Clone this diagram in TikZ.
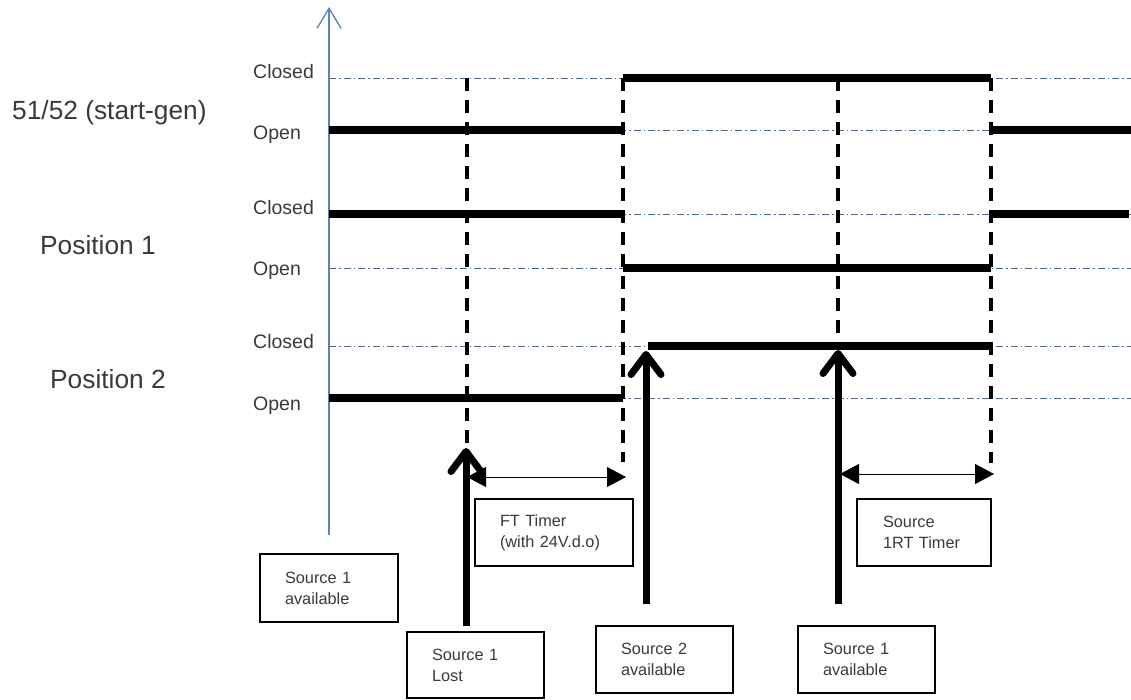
\documentclass[tikz,border=0pt]{standalone}
\usepackage{fontspec}
\setmainfont{Liberation Sans}
\usetikzlibrary{arrows.meta,calc}
\definecolor{axisblue}{HTML}{5B84B8}
\definecolor{refline}{HTML}{4F6A88}
\definecolor{txt}{HTML}{3A3A3A}
\begin{document}
\begin{tikzpicture}[x=1pt,y=-1pt,
  lvl/.style={font=\fontsize{19.5}{21}\selectfont, text=txt, anchor=base west, inner sep=0pt},
  grp/.style={font=\fontsize{26.3}{28}\selectfont, text=txt, anchor=base west, inner sep=0pt},
  refl/.style={refline, line width=0.8pt, dash pattern=on 7pt off 3pt on 1.5pt off 3pt},
  sig/.style={black, line width=8pt},
  evt/.style={black, line width=4pt, dash pattern=on 13pt off 9pt},
  infobox/.style={draw, line width=1.5pt, align=left, inner xsep=25pt, inner ysep=0pt,
    font=\fontsize{16.3}{21}\selectfont, text=txt, anchor=center},
  trig/.style={black, line width=7pt, -{Straight Barb[length=20pt,width=30pt,round]}},
  timer/.style={black, line width=1pt, {Triangle[length=19pt,width=20pt]}-{Triangle[length=19pt,width=20pt]}},
  axis/.style={axisblue, line width=1.3pt, -{Straight Barb[length=20pt,width=24pt]}}
]
\useasboundingbox (0,0) rectangle (1131,700);

% axis
\coordinate (axb) at (329,535);
\coordinate (axt) at (329,7);
\draw[axis] (axb) -- (axt);

% group labels
\node[grp] (g1) at (12,120) {51/52 (start-gen)};
\node[grp] (g2) at (40,255) {Position 1};
\node[grp] (g3) at (50,388) {Position 2};

% level labels
\node[lvl] (l1c) at (253,79) {Closed};
\node[lvl] (l1o) at (253,140) {Open};
\node[lvl] (l2c) at (253,215) {Closed};
\node[lvl] (l2o) at (253,276) {Open};
\node[lvl] (l3c) at (253,348) {Closed};
\node[lvl] (l3o) at (253,410) {Open};

% reference lines
\foreach \y in {78,130,214,268,346,398}
  \draw[refl] (329,\y) -- (1131,\y);

% event dashed lines
\coordinate (e1t) at (467,78);  \coordinate (e1b) at (467,448);
\coordinate (e2t) at (623,78);  \coordinate (e2b) at (623,462);
\coordinate (e3t) at (838,78);  \coordinate (e3b) at (838,346);
\coordinate (e4t) at (991,78);  \coordinate (e4b) at (991,463);
\draw[evt] (e1t) -- (e1b);
\draw[evt] (e2t) -- (e2b);
\draw[evt] (e3t) -- (e3b);
\draw[evt] (e4t) -- (e4b);

% signals
\draw[sig] (329,130) -- (623,130);
\draw[sig] (623,78) -- (991,78);
\draw[sig] (991,130) -- (1131,130);
\draw[sig] (329,214) -- (623,214);
\draw[sig] (623,268) -- (991,268);
\draw[sig] (991,214) -- (1129,214);
\draw[sig] (329,398) -- (623,398);
\draw[sig] (648,346) -- (991,346);

% boxes
\node[infobox, minimum width=138pt, minimum height=68pt, text width=88pt] (b0) at (329,588) {Source 1\\available};
\node[infobox, minimum width=158pt, minimum height=67pt, text width=108pt] (ft) at (554,532.5) {FT Timer\\(with 24V.d.o)};
\node[infobox, minimum width=137pt, minimum height=66pt, text width=87pt] (lost) at (475.5,665) {Source 1\\Lost};
\node[infobox, minimum width=137pt, minimum height=67pt, text width=87pt] (s2) at (664.5,659.5) {Source 2\\available};
\node[infobox, minimum width=137pt, minimum height=67pt, text width=87pt] (s1b) at (866.5,659.5) {Source 1\\available};
\node[infobox, minimum width=134pt, minimum height=67pt, text width=82pt] (rt) at (924,532.5) {Source\\1RT Timer};

% trigger arrows
\coordinate (a1) at (466,448);
\coordinate (a2) at (646,351);
\coordinate (a3) at (838,350);
\draw[trig] ($(lost.north -| a1)+(0,-5)$) -- (a1);
\draw[trig] ($(s2.north -| a2)+(0,-21)$) -- (a2);
\draw[trig] ($(s1b.north -| a3)+(0,-21)$) -- (a3);

% timer arrows
\coordinate (t1a) at (467,477); \coordinate (t1b) at (626,477);
\coordinate (t2a) at (840,474); \coordinate (t2b) at (994,474);
\draw[timer] (t1a) -- (t1b);
\draw[timer] (t2a) -- (t2b);
\end{tikzpicture}
\end{document}
